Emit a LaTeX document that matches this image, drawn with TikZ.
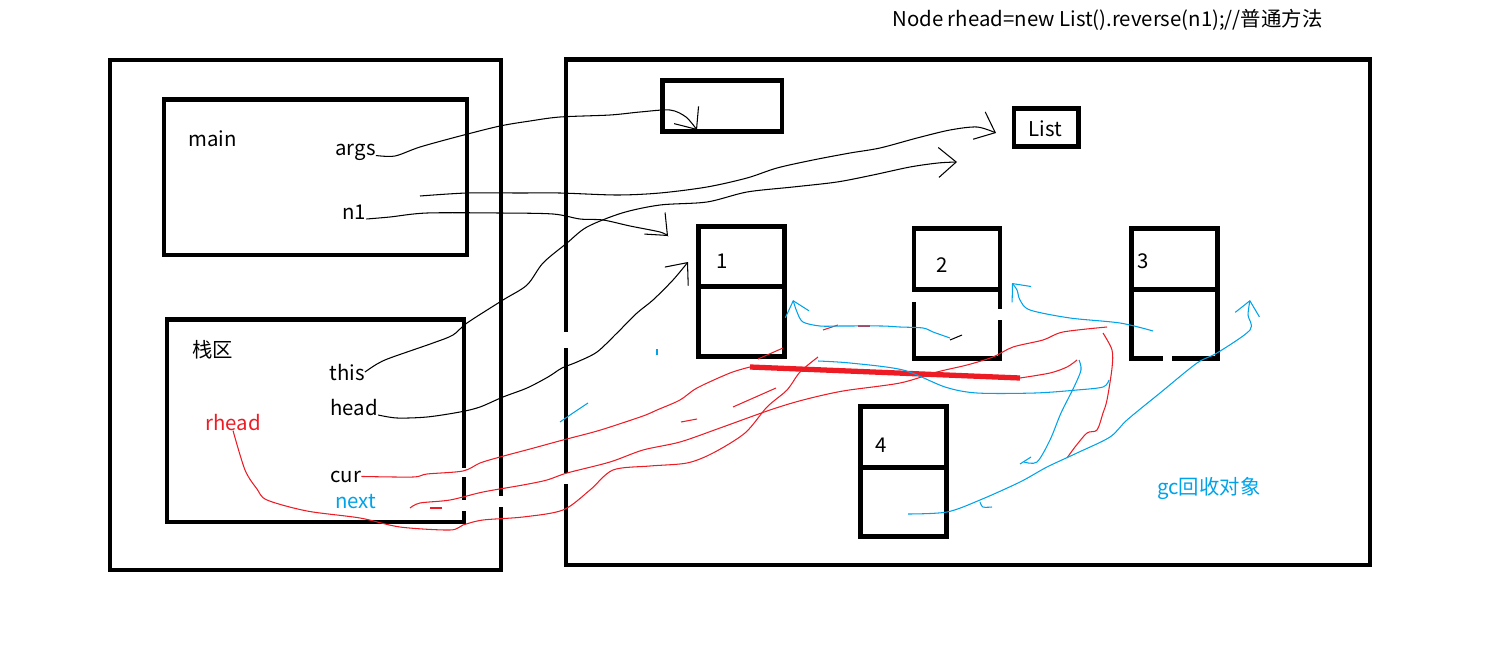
\documentclass[tikz,border=0pt]{standalone}
\usepackage{fontspec}
\newfontfamily\yahei{Noto Sans CJK SC}
\definecolor{paintred}{RGB}{237,28,36}
\definecolor{paintblue}{RGB}{0,162,232}
\usetikzlibrary{positioning, arrows.meta, fit}

\begin{document}
\begin{tikzpicture}[
      x=0.02cm, y=-0.02cm,
      every node/.style = {font=\yahei\fontsize{11.6}{14}\selectfont},
      box/.style = {draw, line width=2.6pt, inner sep=0pt},
      lbl/.style = {anchor=base west, inner sep=0pt},
      ref/.style = {line width=0.6pt},
      ptr/.style = {ref, -{Straight Barb[length=10pt, width=17pt]}},
      redref/.style = {ref, color=paintred},
      redbar/.style = {color=paintred, line width=3pt},
      blueref/.style = {ref, color=paintblue},
      blueptr/.style = {blueref, -{Straight Barb[length=8pt, width=14pt]}},
      erase/.style = {fill=white}
    ]
    \useasboundingbox (0,0) rectangle (1504,666);

    % stack side
    \node[box, fit={(110,60) (501,570)}]   (stack)      {};
    \node[box, fit={(164,99.5) (467,255)}] (mainframe)  {};
    \node[box, fit={(167,319.5) (464,522)}] (stackarea) {};

    % heap side
    \node[box, fit={(566,59.5) (1370,565)}]   (heap)    {};
    \node[box, fit={(662.5,80.5) (782,131.5)}] (argsobj) {};
    \node[box, fit={(1014,108.5) (1078.5,146.5)}] (listobj) {};
    \foreach \n/\x/\y/\h/\lx/\ly in {1/698.5/226.5/60/716/268, 2/914/228.5/61/936/272,
                                     3/1131.5/228.5/61/1137/268, 4/860.5/406.5/61/875/452} {
      \node[box, fit={(\x,\y) (\x+86,\y+\h)}]     (val\n) {};
      \node[box, fit={(\x,\y+\h) (\x+86,\y+130)}] (nxt\n) {};
      \node[lbl] (num\n) at (\lx,\ly) {\n};
    }

    % rubbed out bits
    \foreach \a/\b/\c/\d in {459/468/468/477, 459/500/468/511, 497/496/506/507,
                             561/473/571/484, 561/332/571/348, 909/292/918/302,
                             995/309/1004/320, 1163/355/1172/364} {
      \fill[erase] (\a,\b) rectangle (\c,\d);
    }

    % labels
    \node[lbl] (title) at (892,27) {Node rhead=new List().reverse(n1);//普通方法};
    \node[lbl] (main)  at (188,146) {main};
    \node[lbl] (args)  at (335,155.5) {args};
    \node[lbl] (n1)    at (342,219) {n1};
    \node[lbl] (zhan)  at (192,357) {栈区};
    \node[lbl] (this)  at (329,380) {this};
    \node[lbl] (head)  at (330,415) {head};
    \node[lbl, text=paintred] (rhead) at (205,430) {rhead};
    \node[lbl] (cur)   at (330,482) {cur};
    \node[lbl, text=paintblue] (next) at (335,508) {next};
    \node[lbl] (list)  at (1028,136) {List};
    \node[lbl, text=paintblue] (gc) at (1157,494) {gc回收对象};

    \coordinate (mref) at (420,196);
    \coordinate (nref) at (410,508);
    \coordinate (cut1) at (750,367);
    \coordinate (cut2) at (1020,378);

    % black references
    \draw[ptr] plot[smooth] coordinates {(args.base east) (395,156) (420,147) (460,136)
      (500,126) (530,121) (560,117) (610,115) (640,112) (670,110) (686,117) (697,130)};
    \draw[ptr] plot[smooth] coordinates {(mref) (467,193) (520,193) (560,193) (617,195)
      (660,193) (707,187) (747,178) (777,168) (813,160) (850,153) (880,148) (917,138)
      (950,130) (977,127) (996,133)};
    \draw[ptr] plot[smooth] coordinates {(n1.base east) (390,217) (427,213) (500,213)
      (553,214) (580,219) (603,220) (630,226) (660,232) (668,236)};
    \draw[ptr] plot[smooth] coordinates {(this.east) (377,364) (390,358) (433,343)
      (453,335) (467,323) (503,300) (527,285) (543,263) (567,243) (587,227) (622,213)
      (660,205) (707,202) (747,192) (793,187) (837,182) (873,175) (910,167) (938,163)
      (957,162)};
    \draw[ptr] plot[smooth] coordinates {(head.base east) (397,418) (427,417) (460,412)
      (480,407) (503,397) (527,388) (548,377) (562,368) (577,362) (597,352) (617,333)
      (637,313) (653,300) (673,280) (688,262)};
    \draw[ref] (950,340) -- (962,335);

    % red references
    \draw[redref] plot[smooth] coordinates {(cur.east) (413,477) (427,474) (463,471)
      (480,463) (500,457) (530,449) (563,440) (590,433) (607,428) (643,416) (657,410)
      (680,400) (697,388) (730,373) (cut1)};
    \draw[redbar] (cut1) -- (cut2);
    \draw[redref] plot[smooth] coordinates {(cut2) (1050,373) (1067,367) (1077,360)};
    \draw[redref] plot[smooth] coordinates {(nref) (420,503) (450,500) (483,492)
      (523,485) (547,480) (567,473) (610,462) (643,450) (680,442) (720,428) (770,410)
      (803,400) (843,391) (900,383) (937,372) (967,365) (993,357) (1013,347) (1043,340)
      (1063,332) (1107,327)};
    \draw[redref] plot[smooth] coordinates {(rhead.south) (245,470) (257,489) (267,500)
      (307,511) (360,518) (400,527) (450,530) (463,525) (483,520) (523,517) (563,510)
      (590,490) (613,470) (650,466) (687,463) (713,453) (745,433) (767,407) (787,390)
      (800,372) (818,357)};
    \draw[redref] plot[smooth] coordinates {(1103,333) (1112,350) (1112,368) (1107,400)
      (1103,413) (1097,430) (1087,433) (1075,447) (1067,458)};
    \draw[redref] (430,508) -- (442,508);
    \draw[redref] (733,407) -- (776,388);
    \draw[redref] (681,422) -- (697,419);
    \draw[redref] (758,359) -- (783,348);
    \draw[redref] (823,330) -- (838,325);
    \draw[redref] (858,326) -- (870,326);

    % blue references
    \draw[blueptr] plot[smooth] coordinates {(950,338) (933,332) (923,328) (900,327)
      (882,326) (842,326) (820,326) (803,322) (797,312) (793,300)};
    \draw[blueptr] plot[smooth] coordinates {(1153,331) (1120,323) (1070,318) (1030,310)
      (1020,300) (1017,290) (1012,283)};
    \draw[blueptr] plot[smooth] coordinates {(908,514) (947,512) (980,500) (1020,482)
      (1047,467) (1077,453) (1110,437) (1127,420) (1160,393) (1197,363) (1217,353)
      (1250,330) (1248,315) (1250,300)};
    \draw[blueref] plot[smooth] coordinates {(818,361) (850,363) (903,370) (945,387)
      (977,393) (1035,393) (1077,390) (1103,387) (1109,380)};
    \draw[blueref] plot[smooth] coordinates {(1079,360) (1081,370) (1074,387) (1061,413)
      (1050,440) (1037,462) (1024,462)};
    \draw[blueref] (1020,464) -- (1031,457);
    \draw[blueref] plot[smooth] coordinates {(560,422) (573,413) (588,403)};
    \draw[blueref] plot[smooth] coordinates {(980,502) (983,507) (992,507)};
    \draw[blueref] (657,349) -- (657,355);
  \end{tikzpicture}
\end{document}
